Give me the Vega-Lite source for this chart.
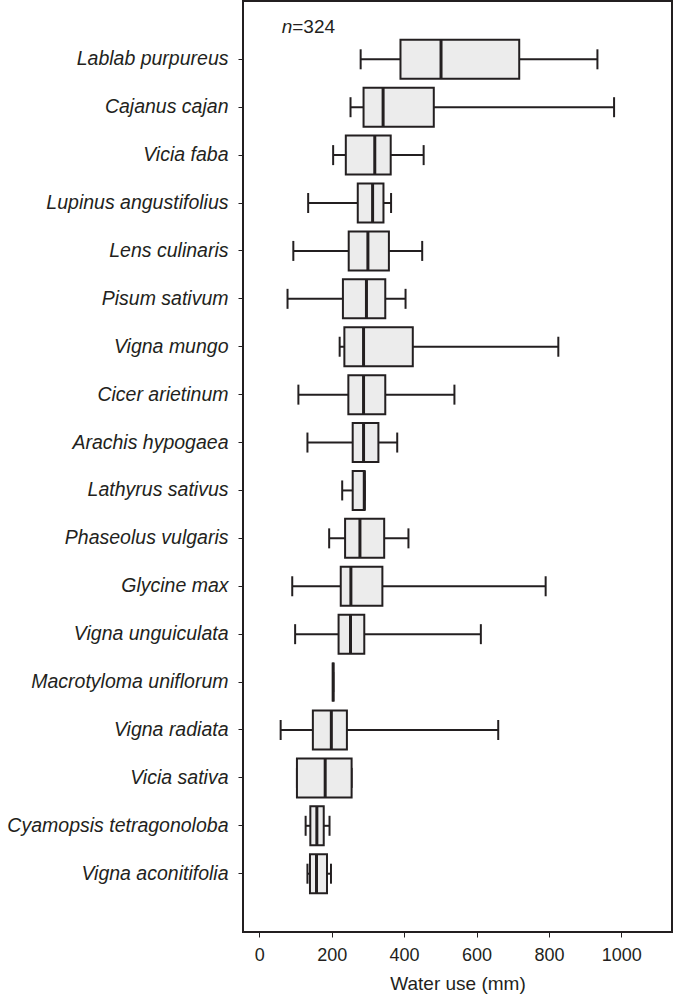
{
  "$schema": "https://vega.github.io/schema/vega-lite/v6.json",
  "width": 429,
  "height": 931,
  "autosize": {"type": "none"},
  "padding": {"left": 243, "top": 1, "right": 3, "bottom": 67},
  "background": "white",
  "config": {
    "view": {"stroke": "#231f20", "strokeWidth": 2},
    "font": "Liberation Sans",
    "tick": {"opacity": 1},
    "axis": {"grid": false, "domain": false, "tickColor": "#231f20", "tickSize": 5, "tickWidth": 1, "labelColor": "#231f20", "titleColor": "#231f20", "titleFontWeight": "normal"}
  },
  "data": {
    "values": [
      {"species": "Lablab purpureus", "low": 280, "q1": 390, "median": 502, "q3": 718, "high": 934},
      {"species": "Cajanus cajan", "low": 252, "q1": 288, "median": 342, "q3": 482, "high": 980},
      {"species": "Vicia faba", "low": 204, "q1": 239, "median": 319, "q3": 363, "high": 454},
      {"species": "Lupinus angustifolius", "low": 135, "q1": 272, "median": 313, "q3": 343, "high": 364},
      {"species": "Lens culinaris", "low": 94, "q1": 247, "median": 300, "q3": 358, "high": 450},
      {"species": "Pisum sativum", "low": 78, "q1": 231, "median": 296, "q3": 348, "high": 404},
      {"species": "Vigna mungo", "low": 222, "q1": 235, "median": 288, "q3": 424, "high": 826},
      {"species": "Cicer arietinum", "low": 108, "q1": 246, "median": 288, "q3": 348, "high": 539},
      {"species": "Arachis hypogaea", "low": 133, "q1": 258, "median": 288, "q3": 329, "high": 381},
      {"species": "Lathyrus sativus", "low": 229, "q1": 258, "median": 290, "q3": 291, "high": 291},
      {"species": "Phaseolus vulgaris", "low": 193, "q1": 237, "median": 278, "q3": 345, "high": 412},
      {"species": "Glycine max", "low": 91, "q1": 225, "median": 253, "q3": 340, "high": 791},
      {"species": "Vigna unguiculata", "low": 99, "q1": 219, "median": 252, "q3": 290, "high": 612},
      {"species": "Macrotyloma uniflorum", "low": 204, "q1": 204, "median": 204, "q3": 204, "high": 204},
      {"species": "Vigna radiata", "low": 59, "q1": 148, "median": 199, "q3": 242, "high": 660},
      {"species": "Vicia sativa", "low": 104, "q1": 104, "median": 182, "q3": 255, "high": 255},
      {"species": "Cyamopsis tetragonoloba", "low": 128, "q1": 141, "median": 159, "q3": 178, "high": 194},
      {"species": "Vigna aconitifolia", "low": 133, "q1": 140, "median": 158, "q3": 187, "high": 198}
    ]
  },
  "encoding": {
    "y": {
      "field": "species", "type": "nominal", "sort": null,
      "scale": {"paddingInner": 0.2, "paddingOuter": 0.817},
      "axis": {"title": null, "labelFontSize": 19.5, "labelFontStyle": "italic", "labelPadding": 10, "labelLimit": 400}
    }
  },
  "layer": [
    {
      "mark": {"type": "rule", "color": "#231f20", "strokeWidth": 2},
      "encoding": {
        "x": {"field": "low", "type": "quantitative",
          "scale": {"domain": [-45, 1140], "nice": false, "zero": false},
          "axis": {"title": "Water use (mm)", "values": [0, 200, 400, 600, 800, 1000], "format": "d", "labelFontSize": 18, "labelPadding": 9, "titleFontSize": 19, "titlePadding": 10}},
        "x2": {"field": "high"}
      }
    },
    {
      "mark": {"type": "tick", "color": "#231f20", "size": 20, "thickness": 2, "opacity": 1},
      "encoding": {"x": {"field": "low", "type": "quantitative"}}
    },
    {
      "mark": {"type": "tick", "color": "#231f20", "size": 20, "thickness": 2, "opacity": 1},
      "encoding": {"x": {"field": "high", "type": "quantitative"}}
    },
    {
      "mark": {"type": "bar", "size": 39, "fill": "#ececec", "stroke": "#231f20", "strokeWidth": 2},
      "encoding": {"x": {"field": "q1", "type": "quantitative"}, "x2": {"field": "q3"}}
    },
    {
      "mark": {"type": "tick", "color": "#231f20", "size": 39, "thickness": 3, "opacity": 1},
      "encoding": {"x": {"field": "median", "type": "quantitative"}}
    },
    {
      "data": {"values": [{"label": "n"}]},
      "mark": {"type": "text", "fontStyle": "italic", "fontSize": 19, "align": "left", "baseline": "middle", "color": "#231f20", "dy": -32},
      "encoding": {"text": {"field": "label"}, "x": {"datum": 62}, "y": {"datum": "Lablab purpureus"}}
    },
    {
      "data": {"values": [{"label": "=324"}]},
      "mark": {"type": "text", "fontSize": 19, "align": "left", "baseline": "middle", "color": "#231f20", "dy": -32},
      "encoding": {"text": {"field": "label"}, "x": {"datum": 91}, "y": {"datum": "Lablab purpureus"}}
    }
  ]
}
